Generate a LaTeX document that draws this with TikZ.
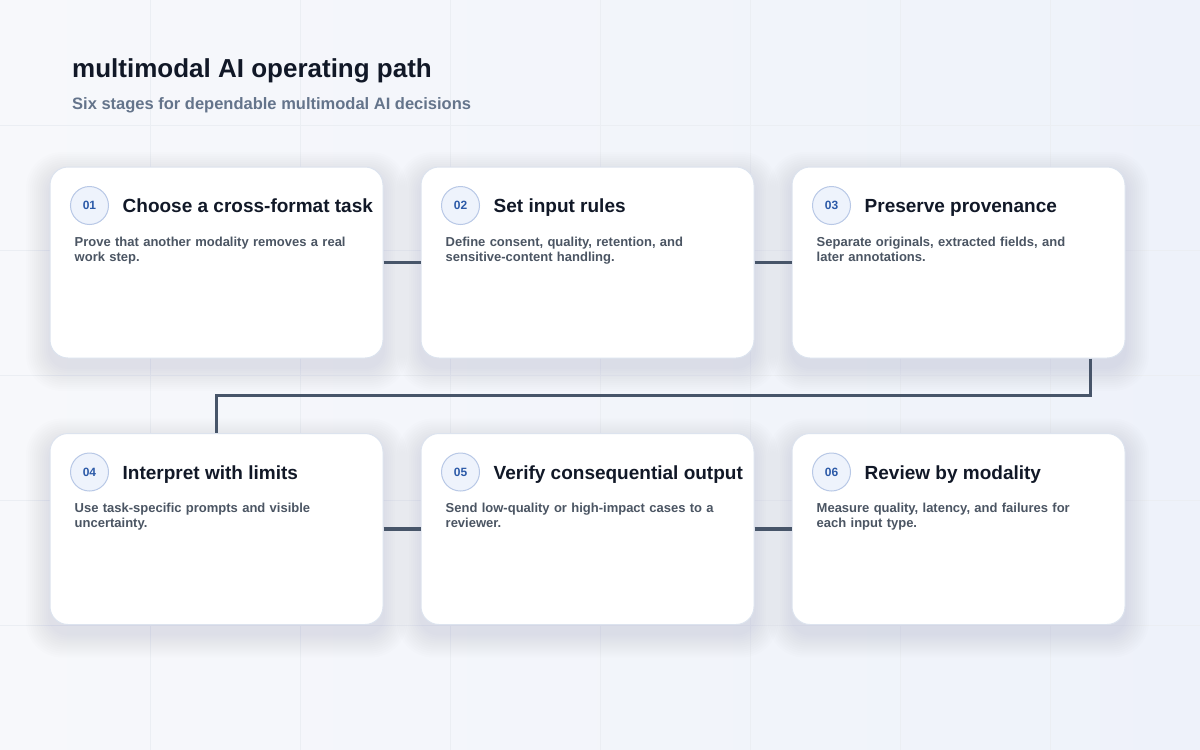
\documentclass[tikz,border=0pt]{standalone}
\usepackage{fontspec}
\setmainfont{Liberation Sans}
\usetikzlibrary{calc}
\definecolor{bgA}{HTML}{F7F8FB}
\definecolor{bgB}{HTML}{EEF2FA}
\definecolor{gridc}{HTML}{EBEEF3}
\definecolor{titlec}{HTML}{111827}
\definecolor{subc}{HTML}{64748B}
\definecolor{bodyc}{HTML}{4B5563}
\definecolor{cardborder}{HTML}{DCE3EE}
\definecolor{badgefill}{HTML}{EEF3FC}
\definecolor{badgeborder}{HTML}{B8C8E6}
\definecolor{badgetext}{HTML}{2C5AA8}
\definecolor{linec}{HTML}{475569}
\definecolor{shadowc}{HTML}{1E3A6E}
\tikzset{
  card/.style={draw=cardborder, line width=1pt, fill=white, rounded corners=18pt,
    minimum width=333pt, minimum height=191pt, inner sep=0pt},
  badge/.style={circle, draw=badgeborder, line width=1pt, fill=badgefill, minimum size=38pt, inner sep=0pt,
    font=\bfseries\fontsize{12}{12}\selectfont, text=badgetext},
  cardtitle/.style={anchor=base west, inner sep=0pt, font=\bfseries\fontsize{19}{22}\selectfont, text=titlec},
  cardbody/.style={anchor=north west, inner sep=0pt, text width=300pt, align=left,
    font=\bfseries\fontsize{13}{15}\selectfont, text=bodyc},
  conn/.style={draw=linec, line width=3.5pt}
}
\begin{document}
\begin{tikzpicture}[x=1pt,y=-1pt]
\useasboundingbox (0,0) rectangle (1200,750);
\shade[left color=bgA, right color=bgB] (0,0) rectangle (1200,750);
\foreach \gx in {150,300,...,1050} \draw[gridc, line width=0.8pt] (\gx,0) -- (\gx,750);
\foreach \gy in {125,250,...,625} \draw[gridc, line width=0.8pt] (0,\gy) -- (1200,\gy);

\node[anchor=base west, inner sep=0pt, font=\bfseries\fontsize{26}{30}\selectfont, text=titlec] (title) at (72,77) {multimodal AI operating path};
\node[anchor=base west, inner sep=0pt, font=\bfseries\fontsize{16.5}{19}\selectfont, text=subc] (subtitle) at (72,109) {Six stages for dependable multimodal AI decisions};

\coordinate (r1) at (216.5,262.5);
\coordinate (r2) at (587.5,262.5);
\coordinate (r3) at (958.5,262.5);
\coordinate (s1) at (216.5,529);
\coordinate (s2) at (587.5,529);
\coordinate (s3) at (958.5,529);

% soft shadows
\foreach \p in {r1,r2,r3,s1,s2,s3}{
  \foreach \k in {1,...,12}{
    \fill[shadowc, opacity=0.008, rounded corners=18pt+1.5*\k pt]
      ($(\p)+(-166.5-2*\k,-95.5-2*\k+9)$) rectangle ($(\p)+(166.5+2*\k,95.5+2*\k+9)$);
  }
}

\node[card] (c1) at (r1) {};
\node[card] (c2) at (r2) {};
\node[card] (c3) at (r3) {};
\node[card] (c4) at (s1) {};
\node[card] (c5) at (s2) {};
\node[card] (c6) at (s3) {};

\draw[conn] (c1.east) -- (c2.west);
\draw[conn] (c2.east) -- (c3.west);
\draw[conn] (c4.east) -- (c5.west);
\draw[conn] (c5.east) -- (c6.west);
\coordinate (turn) at ($(c3.south west)+(299,0)$);
\draw[conn, line join=miter] (turn) -- ++(0,37) -| (c4.north);

\foreach \c/\n/\t/\b in {
  c1/01/{Choose a cross-format task}/{Prove that another modality removes a real\\work step.},
  c2/02/{Set input rules}/{Define consent, quality, retention, and\\sensitive-content handling.},
  c3/03/{Preserve provenance}/{Separate originals, extracted fields, and\\later annotations.},
  c4/04/{Interpret with limits}/{Use task-specific prompts and visible\\uncertainty.},
  c5/05/{Verify consequential output}/{Send low-quality or high-impact cases to a\\reviewer.},
  c6/06/{Review by modality}/{Measure quality, latency, and failures for\\each input type.}}{
  \node[badge] (\c b) at ($(\c.north west)+(40,39)$) {\n};
  \node[cardtitle] (\c t) at ($(\c.north west)+(73,46)$) {\t};
  \node[cardbody] (\c d) at ($(\c.north west)+(25,70)$) {\b};
}
\end{tikzpicture}
\end{document}
